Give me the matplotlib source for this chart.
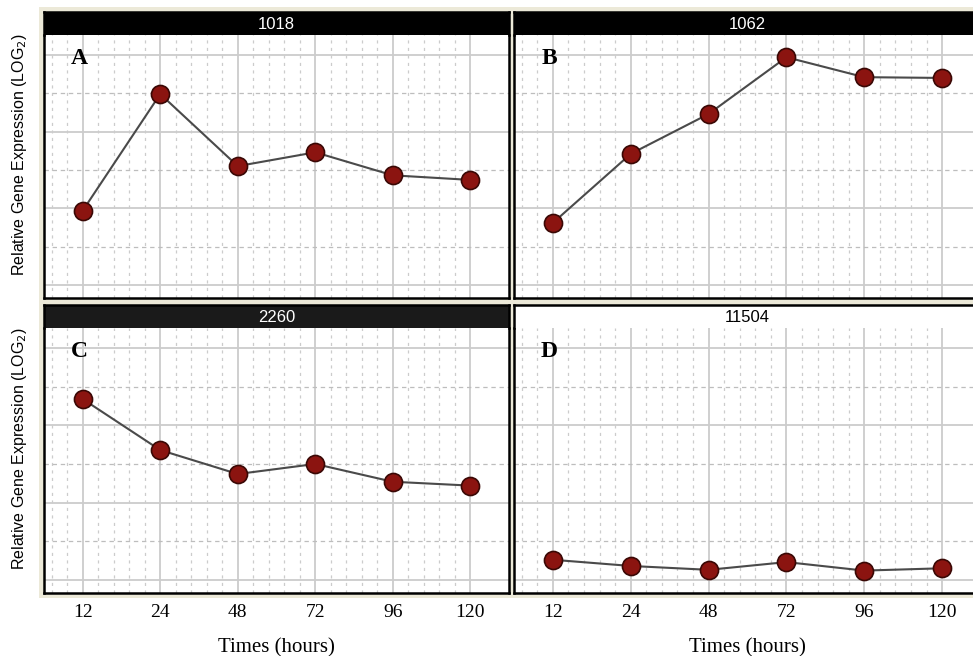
import matplotlib
matplotlib.use("Agg")
import matplotlib.pyplot as plt
from matplotlib.patches import Rectangle

times = ["12", "24", "48", "72", "96", "120"]
genes = ["1018", "1062", "2260", "11504"]
letters = ["A", "B", "C", "D"]
expr_1018 = [0.97, 2.49, 1.55, 1.73, 1.43, 1.37]
expr_1062 = [0.81, 1.71, 2.23, 2.97, 2.71, 2.70]
expr_2260 = [2.34, 1.68, 1.37, 1.50, 1.27, 1.22]
expr_11504 = [0.26, 0.18, 0.13, 0.23, 0.12, 0.15]
series = [expr_1018, expr_1062, expr_2260, expr_11504]

W, H = 973, 656
SANS = "Liberation Sans"
SERIF = "Liberation Serif"
BEIGE = "#ece9d8"
GRID = "#cccccc"


def fx(x):
    return x / W


def fy(y):
    return 1 - y / H


fig = plt.figure(figsize=(W / 100, H / 100), dpi=100)
fig.patches.append(Rectangle((fx(39), fy(598)), fx(W - 39) + 0.01, (598 - 7) / H,
                             transform=fig.transFigure, facecolor=BEIGE, edgecolor="none", zorder=-5))

# panel boxes in pixels: left, right, strip top, strip bottom, plot bottom
boxes = [(44, 509, 12, 35, 298), (514, 981, 12, 35, 298),
         (44, 509, 305, 328, 593), (514, 981, 305, 328, 593)]

for i, (l, r, t, s, b) in enumerate(boxes):
    ax = fig.add_axes([fx(l), fy(b), (r - l) / W, (b - s) / H])
    x = range(len(times))
    ax.set_xlim(-0.5, 5.5)
    ax.set_ylim(-0.17, 3.26)
    # grid
    for k in range(-2, 28):
        v = round(-0.4 + k * 0.2, 2)
        if abs(v - round(v)) < 1e-6:
            ax.axvline(v, color=GRID, lw=1.3, zorder=1)
        else:
            ax.axvline(v, color=GRID, lw=0.9, ls=(0, (2.5, 3.5)), zorder=1)
    for v in [0, 1, 2, 3]:
        ax.axhline(v, color=GRID, lw=1.3, zorder=1)
    for v in [0.5, 1.5, 2.5]:
        ax.axhline(v, color="#bdbdbd", lw=0.9, ls=(0, (3.5, 3)), zorder=1)

    ax.plot(x, series[i], color="#4a4a4a", lw=1.5, zorder=2)
    ax.plot(x, series[i], "o", ms=13, mfc="#8b1410", mec="#3a0805", mew=1.2, zorder=3)
    ax.text(0.076, 0.91, letters[i], transform=ax.transAxes, fontfamily=SERIF,
            fontweight="bold", fontsize=17, ha="center", va="center", zorder=4)

    ax.set_yticks([])
    ax.set_xticks(list(x))
    if i >= 2:
        ax.set_xticklabels(times, fontfamily=SERIF, fontsize=14)
        ax.tick_params(axis="x", length=0, pad=8)
        ax.set_xlabel("Times (hours)", fontfamily=SERIF, fontsize=15, labelpad=12)
    else:
        ax.set_xticklabels([])
        ax.tick_params(axis="x", length=0)
    for sp in ax.spines.values():
        sp.set_linewidth(1.8)
    ax.spines["top"].set_visible(False)

    # strip
    sax = fig.add_axes([fx(l), fy(s), (r - l) / W, (s - t) / H])
    sax.set_xticks([])
    sax.set_yticks([])
    for sp in sax.spines.values():
        sp.set_linewidth(1.8)
    sax.spines["bottom"].set_visible(False)
    if i == 3:
        sax.set_facecolor("white")
        tc = "black"
    else:
        sax.set_facecolor("#000000" if i < 2 else "#1a1a1a")
        tc = "white"
    sax.text(0.5, 0.45, genes[i], transform=sax.transAxes, color=tc, fontfamily=SANS,
             fontsize=12, ha="center", va="center")

for (t, b) in [(12, 298), (305, 593)]:
    fig.text(fx(20), fy((t + b) / 2), "Relative Gene Expression (LOG$_2$)", rotation=90,
             fontfamily=SANS, fontsize=11.5, ha="center", va="center")

fig.savefig("out.png", dpi=100)
